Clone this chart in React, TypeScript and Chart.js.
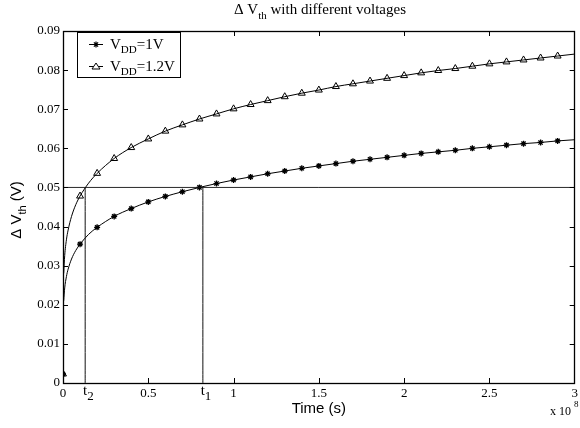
import React, { useEffect, useRef } from "react";
import { Chart, registerables } from "chart.js";

Chart.register(...registerables);

// Time axis (units of 1e8 s)
const curveTimes = [0.004, 0.01, 0.02, 0.03, 0.05, 0.075, 0.1, 0.15, 0.2, 0.3, 0.4, 0.5, 0.6, 0.7, 0.8, 0.9, 1.0, 1.1, 1.2, 1.3, 1.4, 1.5, 1.6, 1.7, 1.8, 1.9, 2.0, 2.1, 2.2, 2.3, 2.4, 2.5, 2.6, 2.7, 2.8, 2.9, 3.0];
const curveVdd1 = [0.0210, 0.0243, 0.0272, 0.0291, 0.0317, 0.0339, 0.0355, 0.0380, 0.0398, 0.0426, 0.0446, 0.0463, 0.0477, 0.0489, 0.0500, 0.0510, 0.0519, 0.0527, 0.0535, 0.0542, 0.0549, 0.0555, 0.0561, 0.0567, 0.0572, 0.0577, 0.0582, 0.0587, 0.0591, 0.0595, 0.0600, 0.0604, 0.0608, 0.0612, 0.0615, 0.0619, 0.0622];
const curveVdd12 = [0.0280, 0.0326, 0.0366, 0.0391, 0.0426, 0.0456, 0.0478, 0.0511, 0.0536, 0.0574, 0.0602, 0.0624, 0.0644, 0.0660, 0.0675, 0.0688, 0.0701, 0.0712, 0.0722, 0.0732, 0.0741, 0.0749, 0.0758, 0.0765, 0.0772, 0.0779, 0.0786, 0.0793, 0.0799, 0.0804, 0.0810, 0.0816, 0.0821, 0.0826, 0.0831, 0.0836, 0.0841];

const markerTimes = [0, 0.1, 0.2, 0.3, 0.4, 0.5, 0.6, 0.7, 0.8, 0.9, 1.0, 1.1, 1.2, 1.3, 1.4, 1.5, 1.6, 1.7, 1.8, 1.9, 2.0, 2.1, 2.2, 2.3, 2.4, 2.5, 2.6, 2.7, 2.8, 2.9];
const markerVdd1 = [0.0023, 0.0355, 0.0398, 0.0426, 0.0446, 0.0463, 0.0477, 0.0489, 0.0500, 0.0510, 0.0519, 0.0527, 0.0535, 0.0542, 0.0549, 0.0555, 0.0561, 0.0567, 0.0572, 0.0577, 0.0582, 0.0587, 0.0591, 0.0595, 0.0600, 0.0604, 0.0608, 0.0612, 0.0615, 0.0619];
const markerVdd12 = [0.0023, 0.0478, 0.0536, 0.0574, 0.0602, 0.0624, 0.0644, 0.0660, 0.0675, 0.0688, 0.0701, 0.0712, 0.0722, 0.0732, 0.0741, 0.0749, 0.0758, 0.0765, 0.0772, 0.0779, 0.0786, 0.0793, 0.0799, 0.0804, 0.0810, 0.0816, 0.0821, 0.0826, 0.0831, 0.0836];

const threshold = 0.05;
const t2 = 0.13;
const t1 = 0.82;

const xTickValues = [0, 0.5, 1, 1.5, 2, 2.5, 3];
const xTickLabels = ["0", "0.5", "1", "1.5", "2", "2.5", "3"];
const yMax = 0.09;
const yStep = 0.01;

const SERIF = "'Liberation Serif', 'DejaVu Serif', serif";
const SANS = "'Liberation Sans', Arial, sans-serif";

function toXY(xs: number[], ys: number[]) {
  return xs.map((x, i) => ({ x, y: ys[i] }));
}

const customPlugin = {
  id: "customDraw",
  afterDraw(chart: any) {
    const ctx = chart.ctx as CanvasRenderingContext2D;
    const xs = chart.scales.x;
    const ys = chart.scales.y;
    const a = chart.chartArea;
    ctx.save();
    ctx.strokeStyle = "#000";
    ctx.fillStyle = "#000";
    // frame
    ctx.lineWidth = 1.3;
    ctx.strokeRect(Math.round(a.left) + 0.5, Math.round(a.top) + 0.5, Math.round(a.right - a.left) - 1, Math.round(a.bottom - a.top));
    // ticks
    ctx.lineWidth = 1;
    const tl = 5;
    for (const v of xTickValues) {
      if (v === 0 || v === 3) continue;
      const px = Math.round(xs.getPixelForValue(v)) + 0.5;
      ctx.beginPath();
      ctx.moveTo(px, a.bottom);
      ctx.lineTo(px, a.bottom - tl);
      ctx.moveTo(px, a.top);
      ctx.lineTo(px, a.top + tl);
      ctx.stroke();
    }
    for (let k = 1; k < 9; k++) {
      const py = Math.round(ys.getPixelForValue(k * yStep)) + 0.5;
      ctx.beginPath();
      ctx.moveTo(a.left, py);
      ctx.lineTo(a.left + tl, py);
      ctx.moveTo(a.right, py);
      ctx.lineTo(a.right - tl, py);
      ctx.stroke();
    }
    // x tick labels
    ctx.font = `13px ${SERIF}`;
    ctx.textAlign = "center";
    ctx.textBaseline = "middle";
    xTickValues.forEach((v, i) => {
      ctx.fillText(xTickLabels[i], xs.getPixelForValue(v), a.bottom + 11);
    });
    // t labels with subscripts
    const tLabel = (v: number, sub: string) => {
      const px = xs.getPixelForValue(v);
      ctx.font = `15px ${SERIF}`;
      ctx.textAlign = "center";
      ctx.fillText("t", px, a.bottom + 8);
      ctx.font = `13px ${SERIF}`;
      ctx.textAlign = "left";
      ctx.fillText(sub, px + 2, a.bottom + 14);
    };
    tLabel(t2, "2");
    tLabel(t1, "1");
    // x axis title
    ctx.font = `15px ${SANS}`;
    ctx.textAlign = "center";
    ctx.fillText("Time (s)", (a.left + a.right) / 2, 409);
    // x 10^8
    ctx.font = `12px ${SERIF}`;
    ctx.textAlign = "left";
    ctx.fillText("x 10", 550, 412);
    ctx.font = `9px ${SERIF}`;
    ctx.fillText("8", 574, 405);

    const drawSubText = (parts: { t: string; sub?: boolean }[], font: string, subFont: string, cx: number, cy: number, subDy: number) => {
      let w = 0;
      for (const p of parts) {
        ctx.font = p.sub ? subFont : font;
        w += ctx.measureText(p.t).width;
      }
      let x = cx - w / 2;
      ctx.textAlign = "left";
      for (const p of parts) {
        ctx.font = p.sub ? subFont : font;
        ctx.fillText(p.t, x, cy + (p.sub ? subDy : 0));
        x += ctx.measureText(p.t).width;
      }
    };
    ctx.textBaseline = "alphabetic";
    // title
    drawSubText(
      [{ t: "\u0394 V" }, { t: "th", sub: true }, { t: " with different voltages" }],
      `15px ${SERIF}`, `11px ${SERIF}`, 320, 14, 5
    );
    // y title (rotated)
    ctx.save();
    ctx.translate(21, 210);
    ctx.rotate(-Math.PI / 2);
    drawSubText(
      [{ t: "\u0394 V" }, { t: "th", sub: true }, { t: " (V)" }],
      `15px ${SANS}`, `11px ${SANS}`, 0, 0, 5
    );
    ctx.restore();

    // legend
    const bx = 77.5, by = 32.5, bw = 103, bh = 45;
    ctx.fillStyle = "#fff";
    ctx.fillRect(bx, by, bw, bh);
    ctx.strokeStyle = "#000";
    ctx.lineWidth = 1;
    ctx.strokeRect(bx, by, bw, bh);
    ctx.fillStyle = "#000";
    const items = [
      { label: "=1V", y: 44, marker: "star" },
      { label: "=1.2V", y: 66, marker: "triangle" },
    ];
    for (const it of items) {
      ctx.beginPath();
      ctx.moveTo(89, it.y + 0.5);
      ctx.lineTo(103, it.y + 0.5);
      ctx.stroke();
      const mx = 96, my = it.y + 0.5;
      if (it.marker === "star") {
        ctx.lineWidth = 1.2;
        ctx.beginPath();
        const r = 3;
        ctx.moveTo(mx - r, my); ctx.lineTo(mx + r, my);
        ctx.moveTo(mx, my - r); ctx.lineTo(mx, my + r);
        const d = r * 0.7;
        ctx.moveTo(mx - d, my - d); ctx.lineTo(mx + d, my + d);
        ctx.moveTo(mx - d, my + d); ctx.lineTo(mx + d, my - d);
        ctx.stroke();
        ctx.lineWidth = 1;
      } else {
        ctx.fillStyle = "#fff";
        ctx.beginPath();
        ctx.moveTo(mx, my - 3.5);
        ctx.lineTo(mx + 4, my + 2.5);
        ctx.lineTo(mx - 4, my + 2.5);
        ctx.closePath();
        ctx.fill();
        ctx.stroke();
        ctx.fillStyle = "#000";
      }
      ctx.textBaseline = "alphabetic";
      ctx.textAlign = "left";
      ctx.font = `15px ${SERIF}`;
      let x = 110;
      ctx.fillText("V", x, it.y + 5);
      x += ctx.measureText("V").width;
      ctx.font = `11px ${SERIF}`;
      ctx.fillText("DD", x, it.y + 9);
      x += ctx.measureText("DD").width;
      ctx.font = `15px ${SERIF}`;
      ctx.fillText(it.label, x, it.y + 5);
    }
    ctx.restore();
  },
};

export default function App() {
  const ref = useRef<HTMLCanvasElement>(null);
  useEffect(() => {
    if (!ref.current) return;
    const lineBase = {
      showLine: true,
      pointRadius: 0,
      borderColor: "#000",
      borderWidth: 1,
      fill: false,
      cubicInterpolationMode: "monotone" as const,
    };
    const chart = new Chart(ref.current, {
      type: "scatter",
      data: {
        datasets: [
          { ...lineBase, label: "ref", data: [{ x: 0, y: threshold }, { x: 3, y: threshold }], borderWidth: 0.9, borderColor: "#111" },
          { ...lineBase, label: "t2", data: [{ x: t2, y: 0 }, { x: t2, y: threshold }], borderWidth: 1, borderColor: "#111" },
          { ...lineBase, label: "t1", data: [{ x: t1, y: 0 }, { x: t1, y: threshold }], borderWidth: 1, borderColor: "#111" },
          { ...lineBase, label: "c1", data: toXY(curveTimes, curveVdd1) },
          { ...lineBase, label: "c12", data: toXY(curveTimes, curveVdd12) },
          {
            label: "VDD=1V",
            data: toXY(markerTimes, markerVdd1),
            showLine: false,
            pointStyle: "star",
            pointRadius: 3,
            borderColor: "#000",
            backgroundColor: "#000",
            borderWidth: 1.3,
          },
          {
            label: "VDD=1.2V",
            data: toXY(markerTimes, markerVdd12),
            showLine: false,
            pointStyle: "triangle",
            pointRadius: 4,
            borderColor: "#000",
            backgroundColor: "#fff",
            borderWidth: 1,
          },
        ],
      },
      options: {
        responsive: false,
        animation: false,
        devicePixelRatio: 1,
        layout: { padding: { top: 31, right: 1, left: 0, bottom: 0 } },
        plugins: { legend: { display: false }, title: { display: false }, tooltip: { enabled: false } },
        scales: {
          x: {
            type: "linear",
            min: 0,
            max: 3,
            ticks: { display: false },
            grid: { display: false, drawTicks: false },
            border: { display: false },
            afterFit: (s: any) => { s.height = 45; },
          },
          y: {
            type: "linear",
            min: 0,
            max: yMax,
            ticks: { stepSize: yStep, color: "#000", font: { family: SERIF, size: 13 }, padding: 3 },
            grid: { display: false, drawTicks: false },
            border: { display: false },
            afterFit: (s: any) => { s.width = 63; },
          },
        },
      },
      plugins: [customPlugin],
    });
    return () => chart.destroy();
  }, []);
  return (
    <div style={{ position: "absolute", left: 0, top: 0, width: 580, height: 428, background: "#fff" }}>
      <canvas ref={ref} width={580} height={428} />
    </div>
  );
}
